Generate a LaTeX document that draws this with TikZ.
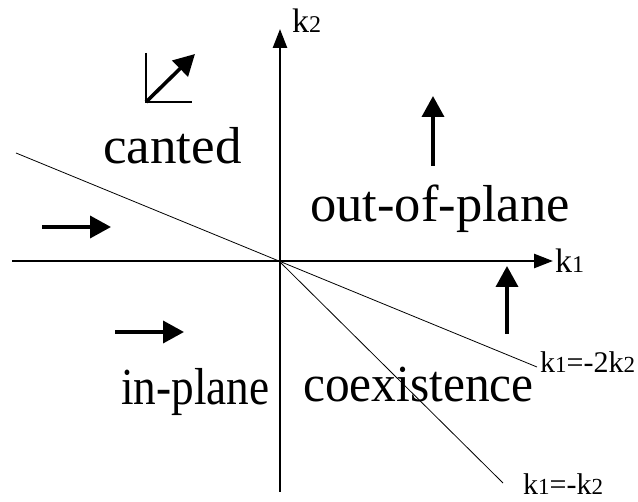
\documentclass[tikz,border=0pt]{standalone}
\usepackage{fontspec}
\setmainfont{Liberation Serif}
\usetikzlibrary{arrows.meta}
\newcommand{\subdig}[1]{{\fontsize{23}{23}\selectfont #1}}
\newcommand{\axsub}[1]{{\fontsize{24}{24}\selectfont #1}}
\tikzset{
  axisline/.style={line width=2.6pt,-{Triangle[length=19pt,width=14pt]}},
  spinarrow/.style={line width=3.6pt,-{Triangle[length=21pt,width=22pt]}},
  boundary/.style={line width=0.8pt},
  phase/.style={anchor=base west,inner sep=0pt,font=\fontsize{52}{56}\selectfont},
  axlabel/.style={anchor=base west,inner sep=0pt,font=\fontsize{34}{36}\selectfont},
  linelabel/.style={anchor=base west,inner sep=0pt,font=\fontsize{30}{32}\selectfont},
}
\begin{document}
\begin{tikzpicture}[x=1pt,y=-1pt]
\useasboundingbox (0,0) rectangle (638,502);
% coordinates
\coordinate (O) at (279,261);
\coordinate (xl) at (12,261);
\coordinate (xr) at (553,261);
\coordinate (yb) at (280,492);
\coordinate (yt) at (280,29);
\coordinate (L1a) at (16,153);
\coordinate (L1b) at (537,367);
\coordinate (L2b) at (503,483);
% axes
\draw[axisline] (xl) -- (xr);
\draw[axisline] (yb) -- (yt);
\node[axlabel] (k1) at (555,273) {k\axsub{1}};
\node[axlabel] (k2) at (292,33) {k\axsub{2}};
% boundaries
\draw[boundary] (L1a) -- (L1b);
\draw[boundary] (O) -- (L2b);
\node[linelabel] (lab1) at (540,373) {k\subdig{1}=-2k\subdig{2}};
\node[linelabel] (lab2) at (523,495) {k\subdig{1}=-k\subdig{2}};
% phase labels
\node[phase,xscale=1.02] (canted) at (103,164) {canted};
\node[phase,xscale=1.01] (oop) at (310,222) {out-of-plane};
\node[phase,xscale=0.87] (inpl) at (121,405) {in-plane};
\node[phase,xscale=0.95] (coex) at (303,402) {coexistence};
% spin arrows
\coordinate (a1s) at (433,166); \coordinate (a1e) at (433,96);
\draw[spinarrow] (a1s) -- (a1e);
\coordinate (a2s) at (507,334); \coordinate (a2e) at (507,266);
\draw[spinarrow] (a2s) -- (a2e);
\coordinate (a3s) at (42,227); \coordinate (a3e) at (111,227);
\draw[spinarrow] (a3s) -- (a3e);
\coordinate (a4s) at (115,332); \coordinate (a4e) at (184,332);
\draw[spinarrow] (a4s) -- (a4e);
% canted symbol
\coordinate (cc) at (146,102);
\coordinate (ct) at (146,53);
\coordinate (cr) at (192,102);
\coordinate (ctip) at (195,54);
\draw[line width=2.6pt] (ct) -- (cc) -- (cr);
\draw[spinarrow] (cc) -- (ctip);
\end{tikzpicture}
\end{document}
